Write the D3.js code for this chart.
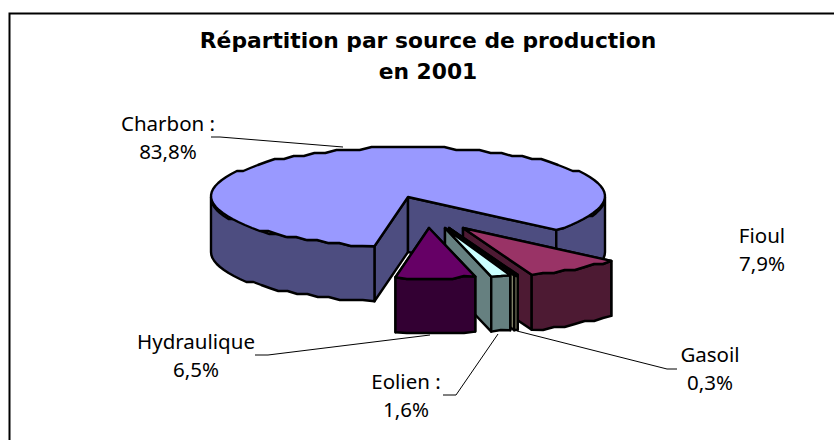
<!DOCTYPE html>
<html lang="fr">
<head>
    <meta charset="UTF-8">
    <title>Répartition par source de production en 2001</title>
    <script src="https://d3js.org/d3.v7.min.js"></script>
    <style>
        html, body { margin: 0; padding: 0; background: #fff; }
        svg { display: block; }
        text { font-family: "Noto Sans", sans-serif; fill: #000; }
        .title { font-family: "DejaVu Sans", sans-serif; font-weight: bold; font-size: 21.8px; }
        .label { font-size: 20.5px; }
    </style>
</head>
<body>
    <svg></svg>

    <script>
        // Chart data
        const sources = ["Charbon", "Fioul", "Gasoil", "Eolien", "Hydraulique"];
        const shares = [83.8, 7.9, 0.3, 1.6, 6.5];
        const labelLines = [
            ["Charbon :", "83,8%"],
            ["Fioul", "7,9%"],
            ["Gasoil", "0,3%"],
            ["Eolien :", "1,6%"],
            ["Hydraulique", "6,5%"]
        ];
        const titleLines = ["Répartition par source de production", "en 2001"];

        // Layout and colours
        const width = 834;
        const height = 440;
        const depth = 55;
        const topColors = ["#9999ff", "#993366", "#ffffcc", "#ccffff", "#660066"];
        const sideColors = ["#4d4d80", "#4d1a33", "#808066", "#668080", "#330033"];
        const explode = [[0, 0], [55, 31], [41, 31], [37, 31], [21, 31]];
        const labelPos = [[168, 131], [762, 243], [710, 362], [406, 389], [196, 349]];
        const leaders = [
            [[211, 137], [220, 137], [343, 147]],
            null,
            [[517, 331], [667, 369], [677, 369]],
            [[443, 395], [456, 395], [498, 334]],
            [[255, 355], [268, 355], [430, 335]]
        ];

        const svg = d3.select("svg")
            .attr("width", width)
            .attr("height", height);

        // Unit circle projected on to the tilted pie
        const x = d3.scaleLinear().domain([-1, 1]).range([211, 605]);
        const y = d3.scaleLinear().domain([-1, 1]).range([147, 247]);

        const pie = d3.pie()
            .sort(null)
            .startAngle(189.8 * Math.PI / 180)
            .endAngle((189.8 + 360) * Math.PI / 180);
        const arcs = pie(shares);

        const line = d3.line();
        const rim = (a, i, dy = 0) => [
            x(Math.sin(a)) + explode[i][0],
            y(-Math.cos(a)) + explode[i][1] + dy
        ];
        const apex = (i, dy = 0) => [x(0) + explode[i][0], y(0) + explode[i][1] + dy];

        // Rim sampled coarsely and snapped in y: the original outline is stepped, not smooth
        function rimPoints(a0, a1, i, dy = 0) {
            const n = Math.max(2, Math.ceil((a1 - a0) * 16));
            return d3.range(n + 1).map(k => {
                const p = rim(a0 + (a1 - a0) * k / n, i, dy);
                return (k === 0 || k === n) ? p : [p[0], Math.round(p[1] / 3) * 3];
            });
        }

        // Parts of the arc that face the viewer (lower half of the ellipse)
        function frontParts(a0, a1) {
            const parts = [];
            for (let turn = 0; turn < 2; turn++) {
                const lo = Math.PI / 2 + turn * 2 * Math.PI;
                const hi = 3 * Math.PI / 2 + turn * 2 * Math.PI;
                const s = Math.max(a0, lo);
                const e = Math.min(a1, hi);
                if (e > s) parts.push([s, e]);
            }
            return parts;
        }

        // Frame: only top and left edges show in the picture
        svg.append("path")
            .attr("d", `M9.5,${height}V13.5H${width}`)
            .attr("fill", "none")
            .attr("stroke", "#000")
            .attr("stroke-width", 2);

        // Slices back to front, in data order
        arcs.forEach((d, i) => {
            const g = svg.append("g")
                .attr("stroke", "#000")
                .attr("stroke-width", 2.4)
                .attr("stroke-linejoin", "round");

            // Cut faces
            [d.startAngle, d.endAngle].forEach(a => {
                g.append("path")
                    .attr("d", line([apex(i), rim(a, i), rim(a, i, depth), apex(i, depth)]) + "Z")
                    .attr("fill", sideColors[i]);
            });

            // Outer wall
            frontParts(d.startAngle, d.endAngle).forEach(([s, e]) => {
                const upper = rimPoints(s, e, i);
                const lower = rimPoints(s, e, i, depth).reverse();
                g.append("path")
                    .attr("d", line(upper.concat(lower)) + "Z")
                    .attr("fill", sideColors[i]);
            });

            // Top face
            g.append("path")
                .attr("d", line([apex(i)].concat(rimPoints(d.startAngle, d.endAngle, i))) + "Z")
                .attr("fill", topColors[i]);
        });

        // Leader lines
        leaders.forEach(pts => {
            if (!pts) return;
            svg.append("path")
                .attr("d", line(pts))
                .attr("fill", "none")
                .attr("stroke", "#000")
                .attr("stroke-width", 1);
        });

        // Data labels
        labelLines.forEach((lines, i) => {
            lines.forEach((t, k) => {
                svg.append("text")
                    .attr("class", "label")
                    .attr("x", labelPos[i][0])
                    .attr("y", labelPos[i][1] + k * 28)
                    .attr("text-anchor", "middle")
                    .text(t);
            });
        });

        // Title
        titleLines.forEach((t, k) => {
            svg.append("text")
                .attr("class", "title")
                .attr("x", 428)
                .attr("y", 48 + k * 31)
                .attr("text-anchor", "middle")
                .text(t);
        });
    </script>
</body>
</html>
